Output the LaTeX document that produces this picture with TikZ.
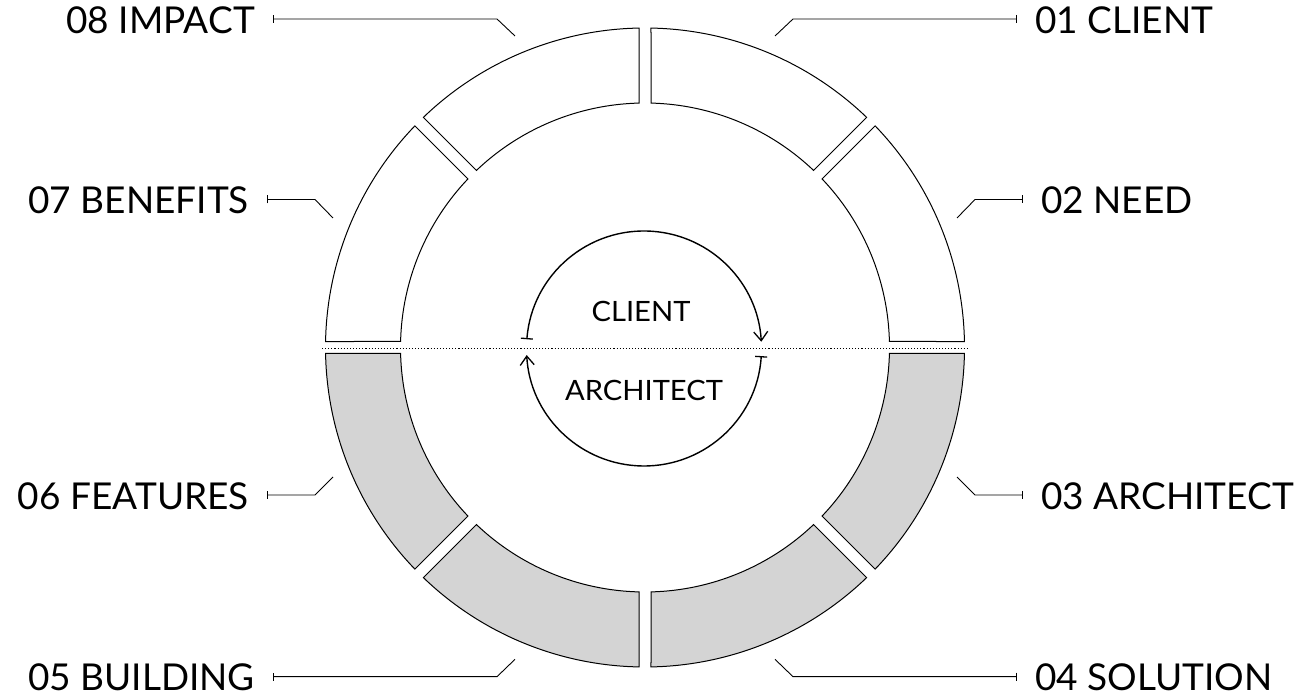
\documentclass[tikz,border=0pt]{standalone}
\usepackage{fontspec}
\setmainfont{Lato}
\newfontfamily\widelato[FakeStretch=1.04]{Lato}
\usetikzlibrary{arrows.meta}
\definecolor{segfill}{RGB}{212,212,212}
\begin{document}
\begin{tikzpicture}[x=1pt,y=1pt,
  seg/.style={draw=black, line width=1pt, line join=miter},
  leader/.style={draw=black, line width=0.9pt, {Bar[width=8pt,line width=0.9pt]}-},
  lbl/.style={inner sep=0pt, font=\fontsize{37}{40}\selectfont},
  inlbl/.style={inner sep=0pt, font=\widelato\fontsize{28}{31}\selectfont},
  cyc/.style={line width=1.4pt, {Bar[width=12pt,line width=1.3pt]}-{Straight Barb[length=9pt,width=14pt,line width=1.3pt]}},
  sep/.style={line width=1pt, dash pattern=on 1.1pt off 2pt}]
\useasboundingbox (0,0) rectangle (1309,698);

% ring of eight segments with parallel gaps
\def\Ro{319.5}
\def\Ri{244.5}
\pgfmathsetmacro\dR{asin(6/\Ro)}
\pgfmathsetmacro\dr{asin(6/\Ri)}
\begin{scope}[shift={(645,350.5)}]
  \foreach \a/\f in {45/white,0/white,-45/segfill,-90/segfill,-135/segfill,-180/segfill,135/white,90/white}{
    \pgfmathsetmacro\oa{\a+\dR}
    \pgfmathsetmacro\ob{\a+45-\dR}
    \pgfmathsetmacro\ia{\a+\dr}
    \pgfmathsetmacro\ib{\a+45-\dr}
    \filldraw[seg, fill=\f] (\oa:\Ro) arc[start angle=\oa, end angle=\ob, radius=\Ro]
      -- (\ib:\Ri) arc[start angle=\ib, end angle=\ia, radius=\Ri] -- cycle;
  }
\end{scope}

% dividing line between the two halves
\coordinate (sepL) at (322,349.5);
\coordinate (sepR) at (969,349.5);
\draw[sep] (sepL) -- (sepR);

% central cycle
\node[inlbl] (cl) at (641,386.5) {CLIENT};
\node[inlbl] (ar) at (644,308) {ARCHITECT};
\coordinate (cyc) at (644,349.5);
\draw[cyc] (cyc) ++(175.5:117.5) arc[start angle=175.5, end angle=3.3, radius=117.5];
\draw[cyc] (cyc) ++(-3.7:117.5) arc[start angle=-3.7, end angle=-176.8, radius=117.5];

% leader end points: bar, bend, end near the ring
\coordinate (b08) at (273,679);   \coordinate (k08) at (497,679);   \coordinate (e08) at (515,662);
\coordinate (b01) at (1017,679);  \coordinate (k01) at (793,679);   \coordinate (e01) at (775,662);
\coordinate (b07) at (267,498.5); \coordinate (k07) at (315,498.5); \coordinate (e07) at (333,480);
\coordinate (b02) at (1023,498.5);\coordinate (k02) at (975,498.5); \coordinate (e02) at (957,480);
\coordinate (b06) at (267,203);   \coordinate (k06) at (315,203);   \coordinate (e06) at (333,221);
\coordinate (b03) at (1023,203);  \coordinate (k03) at (975,203);   \coordinate (e03) at (957,221);
\coordinate (b05) at (273,21.3);  \coordinate (k05) at (497,21.3);  \coordinate (e05) at (515,38.7);
\coordinate (b04) at (1017,21.3); \coordinate (k04) at (793,21.3);  \coordinate (e04) at (775,38.7);

% labels
\node[lbl, anchor=east] (l08) at ([xshift=-18pt,yshift=-1pt]b08) {08 IMPACT};
\node[lbl, anchor=west] (l01) at ([xshift=18pt,yshift=-1pt]b01) {01 CLIENT};
\node[lbl, anchor=east] (l07) at ([xshift=-18pt,yshift=-1pt]b07) {07 BENEFITS};
\node[lbl, anchor=west] (l02) at ([xshift=18pt,yshift=-1pt]b02) {02 NEED};
\node[lbl, anchor=east] (l06) at ([xshift=-18pt,yshift=-1pt]b06) {06 FEATURES};
\node[lbl, anchor=west] (l03) at ([xshift=18pt,yshift=-1pt]b03) {03 ARCHITECT};
\node[lbl, anchor=east] (l05) at ([xshift=-18pt,yshift=-1pt]b05) {05 BUILDING};
\node[lbl, anchor=west] (l04) at ([xshift=18pt,yshift=-1pt]b04) {04 SOLUTION};

% leaders
\foreach \n in {08,01,07,02,06,03,05,04}{
  \draw[leader] (b\n) -- (k\n) -- (e\n);
}
\end{tikzpicture}
\end{document}
